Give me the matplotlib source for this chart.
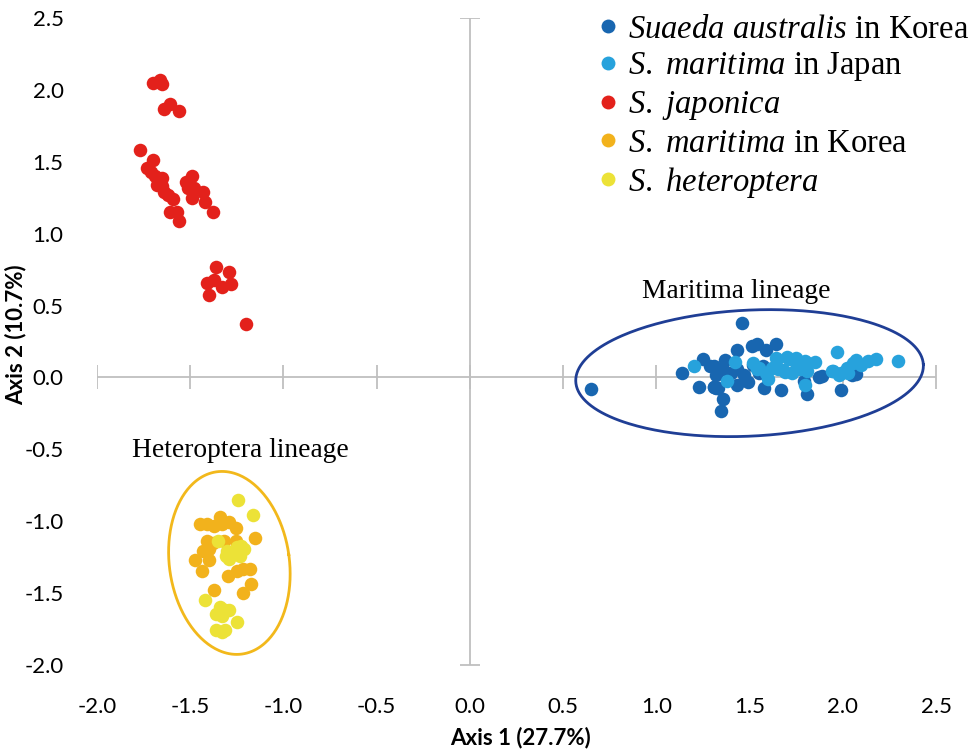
import numpy as np
import matplotlib
matplotlib.use('Agg')
import matplotlib.pyplot as plt

plt.rcParams['mathtext.fontset'] = 'custom'
plt.rcParams['mathtext.rm'] = 'Liberation Serif'
plt.rcParams['mathtext.it'] = 'Liberation Serif:italic'

#colors
c_dark = '#1866b0'
c_light = '#27a2dc'
c_red = '#e3211b'
c_orange = '#f2b21c'
c_yellow = '#ece237'
c_axis = '#bfbfbf'

#axis 1 / axis 2 scores
aus_x = [0.65, 1.46, 1.14, 1.25, 1.23, 1.31, 1.32, 1.31, 1.36, 1.345, 1.37, 1.43, 1.43, 1.43,
         1.32, 1.49, 1.515, 1.54, 1.52, 1.57, 1.58, 1.59, 1.64, 1.67, 1.79, 1.81, 1.87, 1.89,
         1.99, 2.05, 2.07, 1.40, 1.47, 1.55, 1.36, 1.31, 1.33, 1.29]
aus_y = [-0.08, 0.38, 0.03, 0.13, -0.065, 0.08, 0.014, -0.065, -0.15, -0.23, 0.12, 0.19, 0.056, -0.05,
         -0.07, -0.03, 0.22, 0.235, 0.09, 0.083, -0.07, 0.19, 0.23, -0.088, -0.026, -0.113, 0.0, 0.01,
         -0.09, 0.014, 0.026, 0.03, 0.02, 0.03, 0.056, -0.065, -0.075, 0.083]

jpn_x = [1.20, 1.38, 1.42, 1.54, 1.60, 1.645, 1.62, 1.68, 1.71, 1.75, 1.73, 1.77, 1.81, 1.85,
         1.81, 1.80, 1.97, 1.95, 1.98, 2.03, 2.055, 2.07, 2.10, 2.135, 2.18, 2.295, 1.52, 1.55,
         1.64, 1.70, 1.80, 1.75, 1.65, 1.59, 1.69, 1.99, 2.02, 1.94]
jpn_y = [0.08, -0.026, 0.106, 0.056, -0.014, 0.125, 0.067, 0.05, 0.13, 0.136, 0.032, 0.056, 0.10, 0.106,
         0.044, -0.05, 0.18, 0.044, 0.02, 0.03, 0.10, 0.118, 0.09, 0.113, 0.13, 0.113, 0.10, 0.067,
         0.136, 0.14, 0.115, 0.056, 0.056, 0.03, 0.035, 0.03, 0.067, 0.045]

jap_x = [-1.70, -1.66, -1.65, -1.64, -1.61, -1.56, -1.77, -1.70, -1.73, -1.71, -1.69, -1.67, -1.65,
         -1.68, -1.65, -1.64, -1.62, -1.59, -1.52, -1.49, -1.51, -1.48, -1.43, -1.49, -1.42, -1.38,
         -1.61, -1.57, -1.56, -1.36, -1.29, -1.37, -1.41, -1.33, -1.28, -1.40, -1.20]
jap_y = [2.05, 2.07, 2.04, 1.87, 1.90, 1.85, 1.58, 1.51, 1.46, 1.43, 1.40, 1.38, 1.39,
         1.34, 1.33, 1.29, 1.27, 1.24, 1.36, 1.40, 1.32, 1.32, 1.29, 1.25, 1.22, 1.15,
         1.15, 1.15, 1.09, 0.77, 0.73, 0.68, 0.66, 0.63, 0.65, 0.57, 0.37]

kor_x = [-1.45, -1.41, -1.37, -1.34, -1.33, -1.29, -1.255, -1.41, -1.38, -1.32, -1.255, -1.15,
         -1.43, -1.40, -1.475, -1.40, -1.435, -1.30, -1.25, -1.18, -1.215, -1.175, -1.215, -1.37]
kor_y = [-1.02, -1.02, -1.03, -0.97, -1.02, -1.005, -1.045, -1.14, -1.15, -1.14, -1.14, -1.12,
         -1.21, -1.19, -1.27, -1.27, -1.345, -1.38, -1.345, -1.33, -1.33, -1.44, -1.50, -1.48]

het_x = [-1.245, -1.165, -1.35, -1.305, -1.28, -1.25, -1.225, -1.21, -1.235, -1.29, -1.26, -1.31,
         -1.42, -1.34, -1.36, -1.315, -1.29, -1.33, -1.25, -1.36, -1.315, -1.33]
het_y = [-0.85, -0.96, -1.14, -1.205, -1.23, -1.18, -1.17, -1.19, -1.24, -1.265, -1.205, -1.24,
         -1.55, -1.60, -1.645, -1.62, -1.62, -1.66, -1.70, -1.755, -1.76, -1.77]

labels = [r'$\it{Suaeda}$ $\it{australis}$ in Korea',
          r'$\it{S.}$ $\it{maritima}$ in Japan',
          r'$\it{S.}$ $\it{japonica}$',
          r'$\it{S.}$ $\it{maritima}$ in Korea',
          r'$\it{S.}$ $\it{heteroptera}$']

xticks = [-2.0, -1.5, -1.0, -0.5, 0.0, 0.5, 1.0, 1.5, 2.0, 2.5]
yticks = [-2.0, -1.5, -1.0, -0.5, 0.0, 0.5, 1.0, 1.5, 2.0, 2.5]

fig = plt.figure(figsize=(9.77, 7.5), dpi=100)
ax = fig.add_axes([97/977., 1 - 665/750., (936-97)/977., (665-18)/750.])
ax.set_xlim(-2.0, 2.5)
ax.set_ylim(-2.0, 2.5)
for s in ax.spines.values():
    s.set_visible(False)

#axes crossing at the origin
ax.plot([-2.0, 2.5], [0, 0], color=c_axis, lw=1.3, zorder=1)
ax.plot(xticks, np.zeros(len(xticks)), '|', color=c_axis, ms=17, mew=1.3, zorder=1)
ax.plot([0, 0], [-2.0, 2.5], color=c_axis, lw=1.3, marker='_', ms=15, mew=1.3, zorder=1)

sans = ['Lato', 'DejaVu Sans']
tickfont = dict(family=sans, size=16)
ax.set_xticks(xticks)
ax.set_yticks(yticks)
ax.set_xticklabels(['%.1f' % v for v in xticks], **tickfont)
ax.set_yticklabels(['%.1f' % v for v in yticks], **tickfont)
ax.tick_params(length=0)
ax.tick_params(axis='x', pad=23)
ax.tick_params(axis='y', pad=24)

#ellipses drawn in pixel-like units then scaled back to data
sx = (936-97)/4.5
sy = (665-18)/4.5
t = np.linspace(0, 2*np.pi, 300)
def ell(cx, cy, a, b, ang):
    r = np.deg2rad(ang)
    u = a*np.cos(t)*np.cos(r) - b*np.sin(t)*np.sin(r)
    v = a*np.cos(t)*np.sin(r) + b*np.sin(t)*np.cos(r)
    return cx + u/sx, cy + v/sy
ex, ey = ell(1.50, 0.03, 174, 63, 2.8)
ax.plot(ex, ey, color='#1f3e95', lw=2.0, zorder=2)
ex, ey = ell(-1.29, -1.29, 60, 92, 8)
ax.plot(ex, ey, color='#f2b81b', lw=2.0, zorder=2)

ms = 95
ax.scatter(jap_x, jap_y, s=ms, color=c_red, lw=0, zorder=3)
ax.scatter(aus_x, aus_y, s=ms, color=c_dark, lw=0, zorder=3)
ax.scatter(jpn_x, jpn_y, s=ms, color=c_light, lw=0, zorder=4)
ax.scatter(kor_x, kor_y, s=ms, color=c_orange, lw=0, zorder=3)
ax.scatter(het_x, het_y, s=ms, color=c_yellow, lw=0, zorder=4)

serif = ['Liberation Serif', 'DejaVu Serif']
ax.text(1.43, 0.6, 'Maritima lineage', family=serif, size=19.8, ha='center', va='center')
ax.text(-1.23, -0.51, 'Heteroptera lineage', family=serif, size=19.8, ha='center', va='center')

handles = []
for col in [c_dark, c_light, c_red, c_orange, c_yellow]:
    h, = ax.plot([], [], 'o', color=col, ms=10, mec='none')
    handles.append(h)
leg = fig.legend(handles, labels, loc='upper left', bbox_to_anchor=(587/977., 1 - 1/750.),
                 frameon=False, prop={'family': serif, 'size': 23.5}, handlelength=0.5,
                 handletextpad=0.35, labelspacing=0.18, borderaxespad=0)

boldfont = dict(family=sans, size=16, weight='bold')
fig.text(520/977., 1 - 738/750., 'Axis 1 (27.7%)', ha='center', va='center', **boldfont)
fig.text(16/977., 1 - 335/750., 'Axis 2 (10.7%)', ha='center', va='center', rotation=90, **boldfont)

fig.savefig('out.png', dpi=100)
